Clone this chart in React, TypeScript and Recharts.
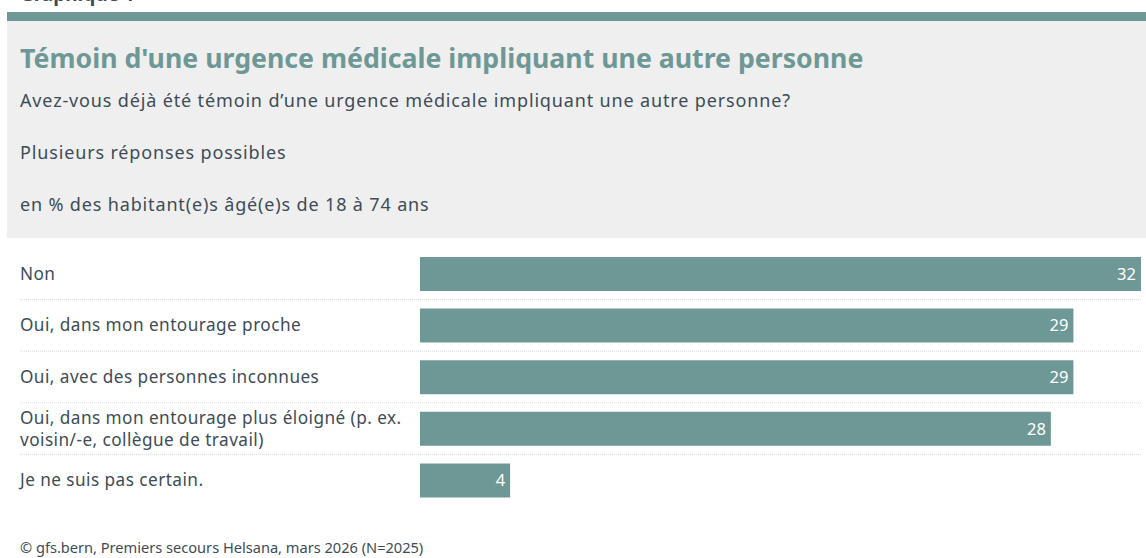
import { BarChart, Bar, XAxis, YAxis, LabelList } from "recharts";

const categories = [
  "Non",
  "Oui, dans mon entourage proche",
  "Oui, avec des personnes inconnues",
  "Oui, dans mon entourage plus éloigné (p. ex.\nvoisin/-e, collègue de travail)",
  "Je ne suis pas certain.",
];
const values = [32, 29, 29, 28, 4];

const data = categories.map((label, i) => ({ label, value: values[i] }));

const FONT = "'Noto Sans', sans-serif";
const TEAL = "#6e9896";
const TEXT = "#3d4c57";
const BAND = 51.6;
const LINE_H = 22;

const RowTick = (props: any) => {
  const { y, payload, index } = props;
  const lines = String(payload.value).split("\n");
  const first = y - ((lines.length - 1) * LINE_H) / 2;
  return (
    <g>
      {lines.map((l, i) => (
        <text key={i} x={20} y={first + i * LINE_H + 6} fill={TEXT} fontSize={17.2} letterSpacing={0.45} fontFamily={FONT} textAnchor="start">
          {l}
        </text>
      ))}
      {index < categories.length - 1 && (
        <line x1={20} x2={1141} y1={y + BAND / 2} y2={y + BAND / 2} stroke="#dadada" strokeDasharray="1 1" />
      )}
    </g>
  );
};

const sub = { position: "absolute" as const, left: 20, fontSize: 18, letterSpacing: 0.85, color: TEXT, lineHeight: "24px", whiteSpace: "nowrap" as const };

const App = () => (
  <div style={{ position: "absolute", left: 0, top: 0, width: 1146, height: 558, overflow: "hidden", background: "#fff", fontFamily: FONT }}>
    <div style={{ position: "absolute", left: 20, top: -18, fontSize: 19, fontWeight: 700, color: TEXT, lineHeight: "24px" }}>Graphique 1</div>
    <div style={{ position: "absolute", left: 7, top: 12, right: 0, height: 9, background: TEAL }} />
    <div style={{ position: "absolute", left: 7, top: 21, right: 0, height: 217, background: "#efefef" }} />
    <div style={{ position: "absolute", left: 20, top: 41, fontSize: 26.7, fontWeight: 700, color: TEAL, lineHeight: "34px", whiteSpace: "nowrap" }}>
      Témoin d'une urgence médicale impliquant une autre personne
    </div>
    <div style={{ ...sub, top: 88 }}>
      Avez-vous déjà été témoin d’une urgence médicale impliquant une autre personne?
    </div>
    <div style={{ ...sub, top: 140 }}>Plusieurs réponses possibles</div>
    <div style={{ ...sub, top: 192 }}>en % des habitant(e)s âgé(e)s de 18 à 74 ans</div>
    <div style={{ position: "absolute", left: 0, top: 248 }}>
      <BarChart width={1146} height={258} data={data} layout="vertical" margin={{ top: 0, right: 5, bottom: 0, left: 0 }} barCategoryGap={0}>
        <XAxis type="number" domain={[0, 32]} hide />
        <YAxis type="category" dataKey="label" width={420} axisLine={false} tickLine={false} tick={<RowTick />} interval={0} />
        <Bar dataKey="value" fill={TEAL} barSize={34} isAnimationActive={false}>
          <LabelList dataKey="value" position="insideRight" offset={5} fill="#ffffff" fontSize={16.5} fontFamily={FONT} />
        </Bar>
      </BarChart>
    </div>
    <div style={{ position: "absolute", left: 20, top: 536, fontSize: 14.6, color: TEXT, lineHeight: "22px", whiteSpace: "nowrap" }}>
      © gfs.bern, Premiers secours Helsana, mars 2026 (N=2025)
    </div>
  </div>
);

export default App;
